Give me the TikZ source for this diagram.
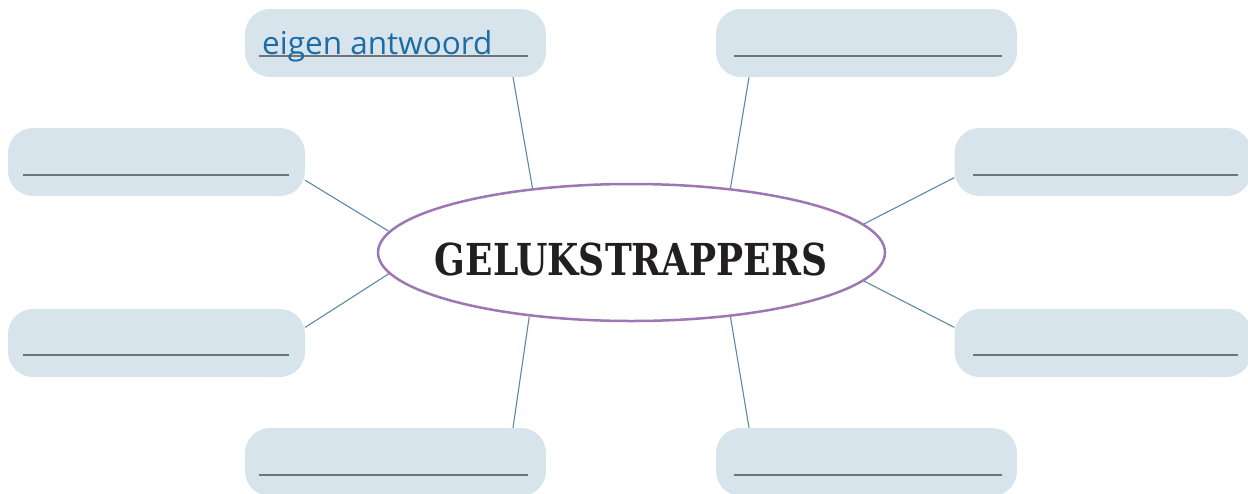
\documentclass[tikz,border=0pt]{standalone}
\usepackage{fontspec}
\setmainfont{Open Sans}
\newfontfamily\titlefont{DejaVu Serif Condensed}
\usetikzlibrary{shapes.geometric,calc}
\pgfdeclarelayer{background}
\pgfsetlayers{background,main}
\definecolor{boxfill}{HTML}{D8E4EC}
\definecolor{linkblue}{HTML}{5A8BA3}
\definecolor{rulegray}{HTML}{6E7479}
\definecolor{ovalpurple}{HTML}{9E76B4}
\definecolor{answerblue}{HTML}{1C6CA6}
\definecolor{titleink}{HTML}{231F20}
\tikzset{
  answerbox/.style={rectangle, rounded corners=25pt, fill=boxfill, draw=none,
    minimum width=301pt, minimum height=68pt, inner sep=0pt},
  widebox/.style={answerbox, minimum width=297pt},
  writeline/.style={draw=rulegray, line width=2pt},
  link/.style={draw=linkblue, line width=1.1pt},
  oval/.style={ellipse, draw=ovalpurple, line width=2.5pt, fill=white,
    minimum width=507pt, minimum height=137pt, inner sep=0pt},
}
\begin{document}
\begin{tikzpicture}[x=1pt, y=-1pt]
\useasboundingbox (0,0) rectangle (1248,493);

% central topic
\node[oval] (hub) at (631.5,252.5) {};
\node[font=\titlefont\bfseries\fontsize{44}{44}\selectfont, text=titleink] (title) at (631,259)
  {\scalebox{0.91}[1]{GELUKSTRAPPERS}};

% answer boxes
\node[answerbox] (tl) at (395.5,43) {};
\node[answerbox] (tr) at (866.5,43) {};
\node[widebox]   (lu) at (156.5,162) {};
\node[widebox]   (ru) at (1103,162) {};
\node[widebox]   (ll) at (156.5,343) {};
\node[widebox]   (rl) at (1103,343) {};
\node[answerbox] (bl) at (395.5,462) {};
\node[answerbox] (br) at (866.5,462) {};

% connectors, kept behind the boxes and the oval
\begin{pgfonlayer}{background}
  \draw[link] ($(tl.south)+(117.5,0)$)  -- (hub.147.4);
  \draw[link] ($(tr.south)+(-117.5,0)$) -- (hub.33.4);
  \draw[link] (lu.-7)     -- (hub.175);
  \draw[link] (ru.-174.9) -- (hub.7.2);
  \draw[link] (ll.6.6)    -- (hub.185.5);
  \draw[link] (rl.174.9)  -- (hub.-7.6);
  \draw[link] ($(bl.north)+(117.5,0)$)  -- (hub.212.6);
  \draw[link] ($(br.north)+(-117.5,0)$) -- (hub.-33.4);
\end{pgfonlayer}

% writing lines
\draw[writeline] (259,55.5) -- (528,55.5);
\draw[writeline] (734,55.5) -- (1002,55.5);
\draw[writeline] (23,175) -- (289,175);
\draw[writeline] (973,175) -- (1238,175);
\draw[writeline] (23,355) -- (289,355);
\draw[writeline] (973,355) -- (1238,355);
\draw[writeline] (259,474.5) -- (528,474.5);
\draw[writeline] (734,474.5) -- (1002,474.5);

% sample answer
\node[anchor=base west, inner sep=0pt, text=answerblue, font=\fontsize{31.5}{31.5}\selectfont] (answer) at (262,54) {eigen antwoord};
\end{tikzpicture}
\end{document}
